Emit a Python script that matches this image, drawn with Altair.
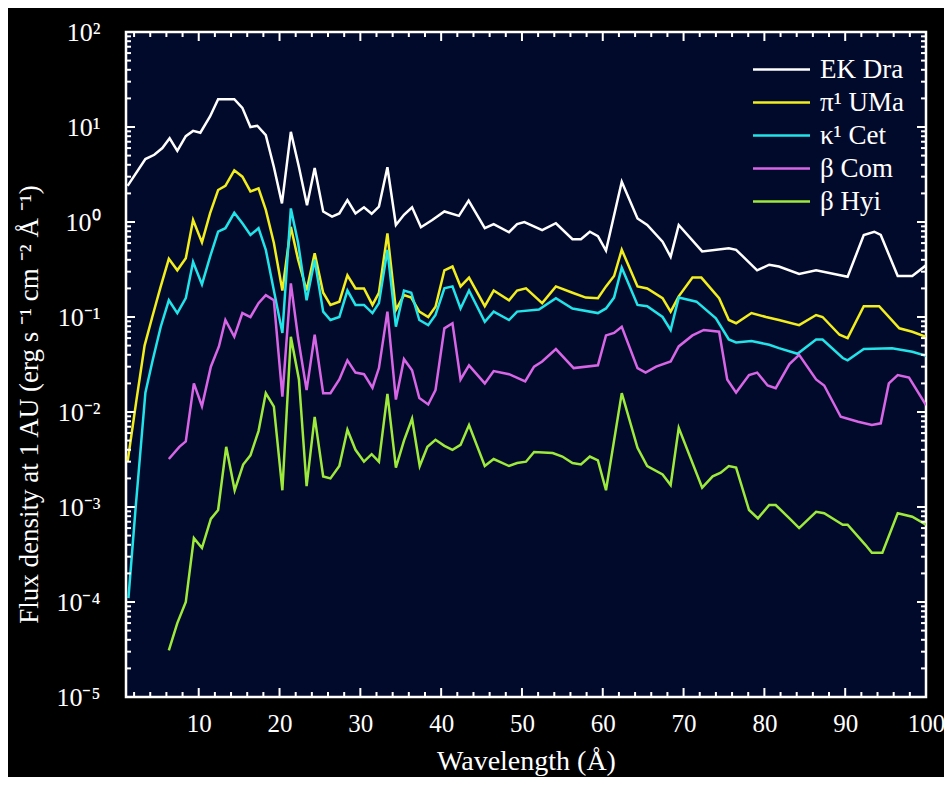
import altair as alt
import pandas as pd

# ---------------- data ----------------
series_names = ["EK Dra", "π¹ UMa", "κ¹ Cet", "β Com", "β Hyi"]
series_colors = ["#ffffff", "#f2ee1e", "#22e4e8", "#d766e6", "#9dea3c"]

ek_x = [1.2, 3.4, 4.5, 5.5, 6.4, 7.35, 8.4, 9.3, 10.2, 11.4, 12.4, 14.4, 15.4, 16.4, 17.25, 18.3, 19.3, 20.3,
        21.4, 22.4, 23.4, 24.35, 25.4, 26.5, 27.4, 28.4, 29.4, 30.45, 31.4, 32.3, 33.35, 34.4, 35.4, 36.4, 37.5,
        38.9, 40.4, 42.2, 43.4, 45.4, 46.5, 48.4, 49.4, 50.3, 52.5, 54.2, 56.25, 57.3, 58.4, 59.4, 60.4, 62.35,
        64.3, 65.5, 67.4, 68.4, 69.4, 72.3, 75.6, 76.5, 79.1, 80.6, 81.8, 84.3, 86.4, 90.3, 92.3, 93.6, 94.4,
        96.5, 98.3, 100]
ek_y = [2.4, 4.6, 5.1, 6.0, 7.6, 5.6, 8.0, 9.1, 8.7, 12.9, 19.6, 19.6, 15.9, 10.0, 10.3, 8.2, 3.8, 1.57,
        8.9, 3.8, 1.5, 3.7, 1.29, 1.14, 1.23, 1.7, 1.23, 1.43, 1.22, 1.45, 3.77, 0.93, 1.19, 1.43, 0.88,
        1.05, 1.29, 1.16, 1.68, 0.86, 0.95, 0.78, 0.95, 1.0, 0.82, 0.97, 0.66, 0.66, 0.79, 0.71, 0.50, 2.65,
        1.09, 0.93, 0.62, 0.43, 0.93, 0.49, 0.53, 0.51, 0.31, 0.355, 0.34, 0.284, 0.31, 0.265, 0.73, 0.79, 0.73,
        0.27, 0.27, 0.35]

pi_x = [1.2, 2.3, 3.3, 4.25, 5.3, 6.3, 7.35, 8.4, 9.3, 10.4, 11.4, 12.4, 13.3, 14.4, 15.4, 16.4, 17.4, 18.3,
        19.3, 20.35, 21.4, 22.3, 23.35, 24.35, 25.4, 26.3, 27.4, 28.4, 29.4, 30.45, 31.5, 32.3, 33.35, 34.4,
        35.4, 36.3, 37.3, 38.4, 39.3, 40.4, 41.4, 42.4, 43.45, 45.4, 46.5, 48.4, 49.4, 50.5, 52.5, 54.2, 56.25,
        57.9, 59.4, 60.4, 61.4, 62.35, 64.3, 65.5, 67.4, 68.4, 69.4, 71.1, 72.2, 74.4, 75.6, 76.5, 78.4, 80.2,
        81.8, 84.3, 86.4, 87.2, 89.3, 90.3, 92.3, 94.2, 96.7, 98.3, 100]
pi_y = [0.003, 0.0135, 0.05, 0.1, 0.21, 0.41, 0.31, 0.415, 1.05, 0.61, 1.23, 2.17, 2.4, 3.5, 3.0, 2.1, 2.26, 1.34,
        0.6, 0.19, 0.89, 0.4, 0.19, 0.47, 0.18, 0.134, 0.145, 0.275, 0.2, 0.2, 0.134, 0.18, 0.76, 0.119,
        0.17, 0.16, 0.114, 0.1, 0.128, 0.31, 0.34, 0.21, 0.26, 0.13, 0.19, 0.15, 0.19, 0.2, 0.14, 0.21, 0.18,
        0.16, 0.158, 0.21, 0.27, 0.51, 0.21, 0.2, 0.158, 0.114, 0.165, 0.26, 0.26, 0.158, 0.093, 0.086, 0.11, 0.1,
        0.093, 0.082, 0.105, 0.1, 0.065, 0.06, 0.13, 0.13, 0.076, 0.07, 0.062]

ka_x = [1.3, 2.2, 3.4, 4.3, 5.3, 6.3, 7.35, 8.4, 9.3, 10.4, 11.4, 12.4, 13.3, 14.4, 15.4, 16.4, 17.4, 18.3,
        19.3, 20.35, 21.4, 22.3, 23.35, 24.35, 25.4, 26.3, 27.4, 28.4, 29.4, 30.45, 31.5, 32.3, 33.35, 34.4,
        35.4, 36.3, 37.3, 38.4, 39.3, 40.4, 41.4, 42.4, 43.45, 45.4, 46.5, 48.4, 49.4, 52.1, 54.2, 56.25, 59.4,
        60.4, 61.4, 62.35, 64.3, 65.5, 67.4, 68.4, 69.4, 71.6, 74.0, 75.6, 76.5, 78.4, 80.6, 81.8, 84.1, 86.4,
        87.2, 89.7, 90.3, 92.3, 95.8, 98.3, 100]
ka_y = [1.1e-4, 0.001, 0.016, 0.035, 0.079, 0.15, 0.11, 0.158, 0.38, 0.22, 0.43, 0.79, 0.86, 1.25, 0.97, 0.73, 0.86, 0.51,
        0.19, 0.068, 1.39, 0.6, 0.15, 0.4, 0.114, 0.093, 0.1, 0.19, 0.134, 0.134, 0.11, 0.14, 0.51, 0.079,
        0.19, 0.18, 0.093, 0.082, 0.105, 0.2, 0.21, 0.123, 0.19, 0.089, 0.114, 0.093, 0.114, 0.12, 0.158, 0.123, 0.11,
        0.123, 0.16, 0.33, 0.134, 0.13, 0.1, 0.073, 0.16, 0.145, 0.097, 0.058, 0.054, 0.056, 0.051, 0.047, 0.041, 0.058,
        0.058, 0.037, 0.035, 0.046, 0.047, 0.043, 0.039]

bc_x = [6.3, 7.6, 8.4, 9.4, 10.4, 11.5, 12.5, 13.3, 14.4, 15.4, 16.4, 17.4, 18.3, 19.3, 20.35, 21.4, 22.3,
        23.35, 24.35, 25.4, 26.3, 27.4, 28.4, 29.4, 30.45, 31.5, 32.3, 33.35, 34.4, 35.4, 36.4, 37.3, 38.4,
        39.3, 40.4, 41.4, 42.4, 43.45, 45.4, 46.5, 48.4, 50.4, 51.5, 52.5, 54.2, 56.4, 59.4, 60.4, 61.4, 62.35,
        64.3, 65.3, 66.6, 68.4, 69.4, 71.1, 72.5, 74.4, 75.4, 76.5, 78.1, 79.1, 80.4, 81.4, 83.1, 84.3, 86.4,
        87.4, 89.45, 91.6, 93.3, 94.4, 95.4, 96.5, 97.9, 100]
bc_y = [0.0032, 0.0043, 0.0049, 0.02, 0.0115, 0.03, 0.049, 0.093, 0.062, 0.11, 0.1, 0.14, 0.17, 0.15, 0.0145, 0.226, 0.06,
        0.017, 0.065, 0.0158, 0.0158, 0.022, 0.035, 0.026, 0.025, 0.018, 0.029, 0.114, 0.0135, 0.036, 0.0275, 0.014, 0.012,
        0.017, 0.076, 0.086, 0.022, 0.031, 0.02, 0.027, 0.025, 0.021, 0.030, 0.034, 0.046, 0.029, 0.031, 0.064, 0.068, 0.079,
        0.029, 0.026, 0.03, 0.034, 0.049, 0.064, 0.073, 0.07, 0.022, 0.016, 0.0245, 0.026, 0.019, 0.0178, 0.032, 0.04, 0.022,
        0.019, 0.0089, 0.0079, 0.0073, 0.0076, 0.02, 0.0245, 0.023, 0.0118]

bh_x = [6.3, 7.35, 8.4, 9.4, 10.4, 11.5, 12.4, 13.4, 14.45, 15.5, 16.4, 17.4, 18.3, 19.3, 20.35, 21.4, 22.4,
        23.35, 24.35, 25.4, 26.3, 27.4, 28.4, 29.4, 30.45, 31.4, 32.3, 33.35, 34.4, 35.4, 36.4, 37.35, 38.3,
        39.3, 40.4, 41.4, 42.4, 43.45, 45.4, 46.5, 48.4, 49.4, 50.5, 51.5, 53.8, 55.0, 56.25, 57.3, 58.4, 59.4,
        60.4, 62.35, 64.3, 65.5, 67.4, 68.4, 69.4, 72.3, 73.6, 74.6, 75.6, 76.5, 78.1, 79.2, 80.6, 81.4, 83.1,
        84.3, 86.4, 87.4, 89.7, 90.3, 92.5, 93.3, 94.6, 96.5, 98.3, 100]
bh_y = [3.1e-5, 6e-5, 1e-4, 4.7e-4, 3.7e-4, 7.5e-4, 9.3e-4, 0.0043, 0.0015, 0.0028, 0.0035, 0.0063, 0.0158, 0.0114, 0.0015,
        0.062, 0.022, 0.00166, 0.0089, 0.0021, 0.002, 0.0027, 0.0065, 0.004, 0.003, 0.0036, 0.003, 0.0155, 0.0026, 0.005,
        0.0085, 0.0027, 0.0043, 0.0051, 0.0044, 0.004, 0.0045, 0.0073, 0.0027, 0.0032, 0.0027, 0.0029, 0.003, 0.0038,
        0.0037, 0.0034, 0.0029, 0.0028, 0.0034, 0.0031, 0.0015, 0.0158, 0.0042, 0.0027, 0.0022, 0.0017, 0.0068, 0.0016,
        0.0021, 0.0023, 0.0027, 0.0026, 0.00093, 0.00076, 0.00105, 0.00105, 0.00076, 0.0006, 0.00089, 0.00086, 0.00065,
        0.00065, 0.0004, 0.00033, 0.00033, 0.00086, 0.00079, 0.00065]

x_tick_values = [10, 20, 30, 40, 50, 60, 70, 80, 90, 100]
y_tick_values = [1e-5, 1e-4, 1e-3, 1e-2, 1e-1, 1, 10, 100]
y_tick_labels = ["10⁻⁵", "10⁻⁴", "10⁻³", "10⁻²", "10⁻¹", "10⁰", "10¹", "10²"]
x_major_ticks = [10, 20, 30, 40, 50, 60, 70, 80, 90]
x_minor_ticks = [v for v in range(2, 100, 2) if v % 10 != 0]
y_major_ticks = [1e-4, 1e-3, 1e-2, 1e-1, 1, 10]
y_minor_ticks = [m * 10.0 ** k for k in range(-5, 2) for m in range(2, 10)]

# ---------------- build table ----------------
rows = []
for name, xs, ys in zip(series_names, [ek_x, pi_x, ka_x, bc_x, bh_x], [ek_y, pi_y, ka_y, bc_y, bh_y]):
    for i, (xv, yv) in enumerate(zip(xs, ys)):
        rows.append({"series": name, "wl": xv, "flux": yv, "idx": i})
df = pd.DataFrame(rows)

W, H = 800, 665
FONT = "Liberation Serif"
MAJ, MIN = 9, 5

xscale = alt.Scale(domain=[1, 100], zero=False, nice=False)
yscale = alt.Scale(type="log", domain=[1e-5, 100], nice=False)

label_expr = "[" + ",".join("'" + s + "'" for s in y_tick_labels) + "][round(log(datum.value)/LN10)+5]"

x_axis = alt.Axis(values=x_tick_values, ticks=False, domain=False, grid=False,
                  labelFont=FONT, labelFontSize=25, labelColor="white", labelPadding=14,
                  labelFlush=False, labelOverlap=False,
                  title="Wavelength (Å)", titleFont=FONT, titleFontSize=28, titleFontWeight="normal",
                  titleColor="white", titlePadding=11)
y_axis = alt.Axis(values=y_tick_values, labelExpr=label_expr, ticks=False, domain=False, grid=False,
                  labelFont=FONT, labelFontSize=26, labelColor="white", labelPadding=26,
                  labelFlush=False, labelOverlap=False,
                  title="Flux density at 1 AU (erg s ⁻¹ cm ⁻² Å ⁻¹)", titleFont=FONT, titleFontSize=27,
                  titleFontWeight="normal", titleColor="white", titlePadding=12, titleY=372)

lines = alt.Chart(df).mark_line(strokeWidth=2.5, clip=True).encode(
    x=alt.X("wl:Q", scale=xscale, axis=x_axis),
    y=alt.Y("flux:Q", scale=yscale, axis=y_axis),
    color=alt.Color("series:N",
                    scale=alt.Scale(domain=series_names, range=series_colors),
                    legend=alt.Legend(title=None, orient="none", legendX=642, legendY=24,
                                      symbolType="M-3,0H3", symbolSize=361, symbolStrokeWidth=2.5,
                                      labelFont=FONT, labelFontSize=27, labelColor="white",
                                      labelOffset=25, rowPadding=5, padding=0)),
    order="idx:Q",
)

def xticks(values, y0, y1):
    return alt.Chart(pd.DataFrame({"wl": values})).mark_rule(color="white", strokeWidth=2).encode(
        x=alt.X("wl:Q", scale=xscale, axis=x_axis), y=alt.value(y0), y2=alt.value(y1))

def yticks(values, x0, x1):
    return alt.Chart(pd.DataFrame({"flux": values})).mark_rule(color="white", strokeWidth=2).encode(
        y=alt.Y("flux:Q", scale=yscale, axis=y_axis), x=alt.value(x0), x2=alt.value(x1))

chart = alt.layer(
    lines,
    xticks(x_major_ticks, H, H - MAJ), xticks(x_minor_ticks, H, H - MIN),
    xticks(x_major_ticks, 0, MAJ), xticks(x_minor_ticks, 0, MIN),
    yticks(y_major_ticks, 0, MAJ), yticks(y_minor_ticks, 0, MIN),
    yticks(y_major_ticks, W, W - MAJ), yticks(y_minor_ticks, W, W - MIN),
).properties(
    width=W, height=H, background="black",
    padding={"left": 118, "top": 24, "right": 18, "bottom": 80},
    autosize=alt.AutoSizeParams(type="none"),
).configure_view(fill="#020a2c", stroke="white", strokeWidth=2.5)

chart.save("out.html", embed_options={"renderer": "svg", "actions": False})
